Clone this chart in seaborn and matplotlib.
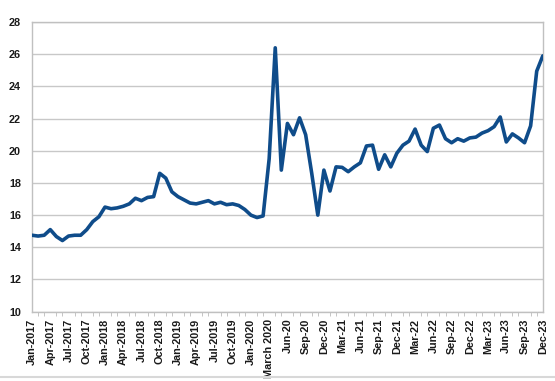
import numpy as np
import pandas as pd
import seaborn as sns
import matplotlib.pyplot as plt
from matplotlib.lines import Line2D

# monthly values, Jan 2017 .. Dec 2023 (with an extra point in March 2020)
values = [
    14.75, 14.7, 14.75, 15.1, 14.67, 14.42, 14.7, 14.75, 14.75, 15.1,
    15.6, 15.9, 16.5, 16.4, 16.45, 16.55, 16.7, 17.05, 16.9, 17.1,
    17.15, 18.6, 18.3, 17.45, 17.15, 16.95, 16.75, 16.7, 16.8, 16.9,
    16.7, 16.8, 16.65, 16.7, 16.6, 16.35, 16.0, 15.85, 15.95, 19.5,
    26.4, 18.8, 21.7, 21.0, 22.05, 21.0, 18.6, 16.0, 18.8, 17.5,
    19.0, 18.97, 18.7, 19.0, 19.25, 20.3, 20.35, 18.85, 19.75, 19.0,
    19.85, 20.35, 20.6, 21.35, 20.35, 19.95, 21.4, 21.6, 20.75, 20.5,
    20.75, 20.6, 20.8, 20.85, 21.1, 21.25, 21.5, 22.1, 20.55, 21.05,
    20.8, 20.5, 21.55, 24.95, 25.9,
]

tick_labels = [
    "Jan-2017", "Apr-2017", "Jul-2017", "Oct-2017",
    "Jan-2018", "Apr-2018", "Jul-2018", "Oct-2018",
    "Jan-2019", "Apr-2019", "Jul-2019", "Oct-2019",
    "Jan-2020", "March 2020", "Jun-20", "Sep-20", "Dec-20",
    "Mar-21", "Jun-21", "Sep-21", "Dec-21",
    "Mar-22", "Jun-22", "Sep-22", "Dec-22",
    "Mar-23", "Jun-23", "Sep-23", "Dec-23",
]

y_ticks = [10, 12, 14, 16, 18, 20, 22, 24, 26, 28]

df = pd.DataFrame({"idx": np.arange(len(values)), "value": values})

sns.set_style("white")
plt.rcParams['font.family'] = ['Liberation Sans', 'DejaVu Sans']

fig = plt.figure(figsize=(5.55, 3.81), dpi=100)
ax = fig.add_axes([0.0577, 0.182, 0.9203, 0.760])

sns.lineplot(data=df, x="idx", y="value", ax=ax, color="#0F4C8A",
             linewidth=2.6, zorder=3)

ax.set_xlim(0, len(values) - 1)
ax.set_ylim(10, 28)
ax.set_yticks(y_ticks)
ax.set_yticklabels([str(t) for t in y_ticks], fontsize=7.8, fontweight="bold",
                   color="#1A1A1A")
ax.set_xticks(np.arange(0, len(values), 3))
ax.set_xticklabels(tick_labels, rotation=90, fontsize=7.8, fontweight="bold",
                   color="#1A1A1A")
ax.set_xticks(np.arange(len(values)), minor=True)

ax.grid(axis="y", color="#C8C8C8", linewidth=1.0)
ax.set_axisbelow(True)
ax.tick_params(axis="x", which="both", length=3, color="#BBBBBB",
               direction="out", pad=2)
ax.tick_params(axis="y", length=3, color="#BBBBBB", pad=5)
ax.tick_params(axis="x", which="minor", bottom=True)
for s in ax.spines.values():
    s.set_color("#C0C0C0")
    s.set_linewidth(1.0)

ax.set_xlabel("")
ax.set_ylabel("")

# outer sheet border line at the bottom
fig.add_artist(Line2D([0, 1], [0.01, 0.01], color="#D8D8D8", linewidth=1.5))

fig.savefig("out.png", dpi=100)
